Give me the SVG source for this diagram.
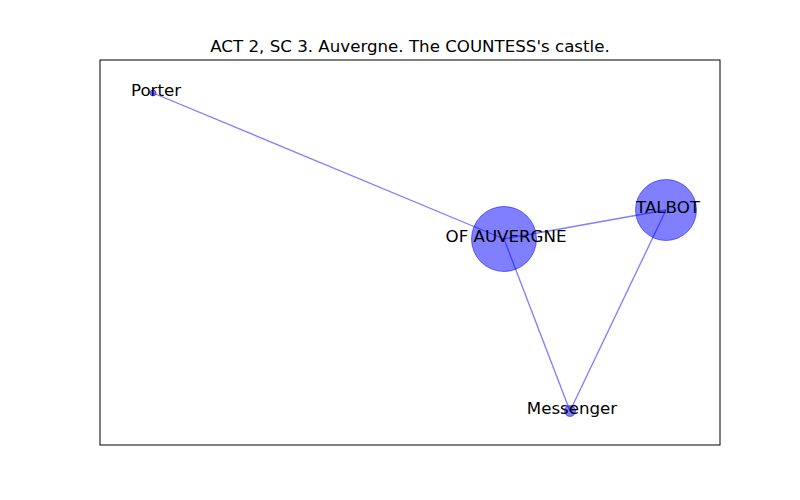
<svg xmlns="http://www.w3.org/2000/svg" width="800" height="500" viewBox="0 0 800 500">
<style>
.edge{stroke:#0000ff;stroke-opacity:0.5;stroke-width:1.35;fill:none}
.node{fill:#0000ff;fill-opacity:0.5;stroke:#0000ff;stroke-opacity:0.5;stroke-width:1}
.lbl{font-family:"DejaVu Sans",sans-serif;font-size:16.67px;fill:#000;text-anchor:middle}
</style>
<rect x="0" y="0" width="800" height="500" fill="#fff"/>
<text class="lbl" x="410" y="52">ACT 2, SC 3. Auvergne. The COUNTESS's castle.</text>
<rect x="100" y="60" width="620" height="385" fill="none" stroke="#000" stroke-width="1"/>
<g id="connectors">
<line class="edge" x1="153" y1="93" x2="504" y2="239"/>
<line class="edge" x1="504" y1="239" x2="666" y2="210"/>
<line class="edge" x1="504" y1="239" x2="570" y2="411"/>
<line class="edge" x1="666" y1="210" x2="570" y2="411"/>
</g>
<g id="porter">
<circle class="node" cx="153" cy="93" r="3"/>
<text class="lbl" x="156" y="96">Porter</text>
</g>
<g id="auvergne">
<circle class="node" cx="504" cy="239" r="32.5"/>
<text class="lbl" x="506" y="242">OF AUVERGNE</text>
</g>
<g id="talbot">
<circle class="node" cx="666" cy="210" r="30.5"/>
<text class="lbl" x="668" y="212.5">TALBOT</text>
</g>
<g id="messenger">
<circle class="node" cx="570" cy="411" r="5.5"/>
<text class="lbl" x="572" y="414">Messenger</text>
</g>
</svg>
